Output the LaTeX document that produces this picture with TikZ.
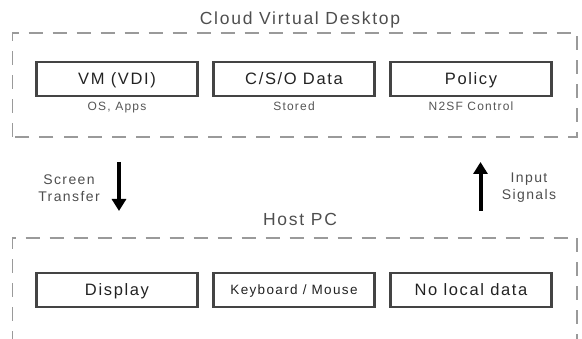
\documentclass[tikz,border=0pt]{standalone}
\usepackage{fontspec}
\setmainfont{Liberation Sans}[LetterSpace=10]
\usetikzlibrary{arrows.meta}
\definecolor{dashgray}{HTML}{9A9A9A}
\definecolor{boxline}{HTML}{444444}
\definecolor{txt}{HTML}{222222}
\definecolor{subtxt}{HTML}{555555}
\begin{document}
\begin{tikzpicture}[x=1pt,y=-1pt,
  region/.style={draw=dashgray, line width=1.8pt, dash pattern=on 14pt off 10pt},
  comp/.style={draw=boxline, line width=2.4pt, minimum width=161pt, minimum height=34pt,
     inner sep=0pt, text depth=0pt, text=txt},
  bigtext/.style={font=\fontsize{16.5}{18}\selectfont, text height=11.8pt},
  smalltext/.style={font=\fontsize{13.5}{15}\selectfont, text height=9.7pt},
  sublabel/.style={font=\fontsize{12}{14}\selectfont, text=subtxt, anchor=base, inner sep=0pt},
  title/.style={font=\fontsize{17.5}{20}\selectfont, text=txt!80!white, anchor=base, inner sep=0pt},
  side/.style={font=\fontsize{14}{17}\selectfont, text=txt!80!white, align=center, inner sep=0pt},
  flow/.style={line width=4pt, -{Triangle[length=12pt,width=14pt]}}
]
\useasboundingbox (0,0) rectangle (582,339);
% regions
\draw[region] (12.5,137) rectangle (577,33);
\draw[region] (12.5,345) -- (12.5,238) -- (577,238) -- (577,345);
\node[title] (cloudtitle) at (300,25) {Cloud Virtual Desktop};
\node[title] (hosttitle) at (300,226) {Host PC};
% cloud components
\node[comp,bigtext] (vm) at (117,79) {VM (VDI)};
\node[comp,bigtext] (data) at (294,79) {C/S/O Data};
\node[comp,bigtext] (policy) at (471,79) {Policy};
\node[sublabel] (vmsub) at (117,110.5) {OS, Apps};
\node[sublabel] (datasub) at (294,110.5) {Stored};
\node[sublabel] (policysub) at (471,110.5) {N2SF Control};
% host components
\node[comp,bigtext] (display) at (117,290) {Display};
\node[comp,smalltext] (kbd) at (294,290) {Keyboard / Mouse};
\node[comp,bigtext] (nolocal) at (471,290) {No local data};
% arrows
\coordinate (downA) at (119,162);
\coordinate (downB) at (119,211);
\coordinate (upA) at (480.5,211);
\coordinate (upB) at (480.5,162);
\draw[flow] (downA) -- (downB);
\draw[flow] (upA) -- (upB);
\node[side] (screenlbl) at (69,188) {Screen\\Transfer};
\node[side] (inputlbl) at (529,188) {Input\\Signals};
\end{tikzpicture}
\end{document}
